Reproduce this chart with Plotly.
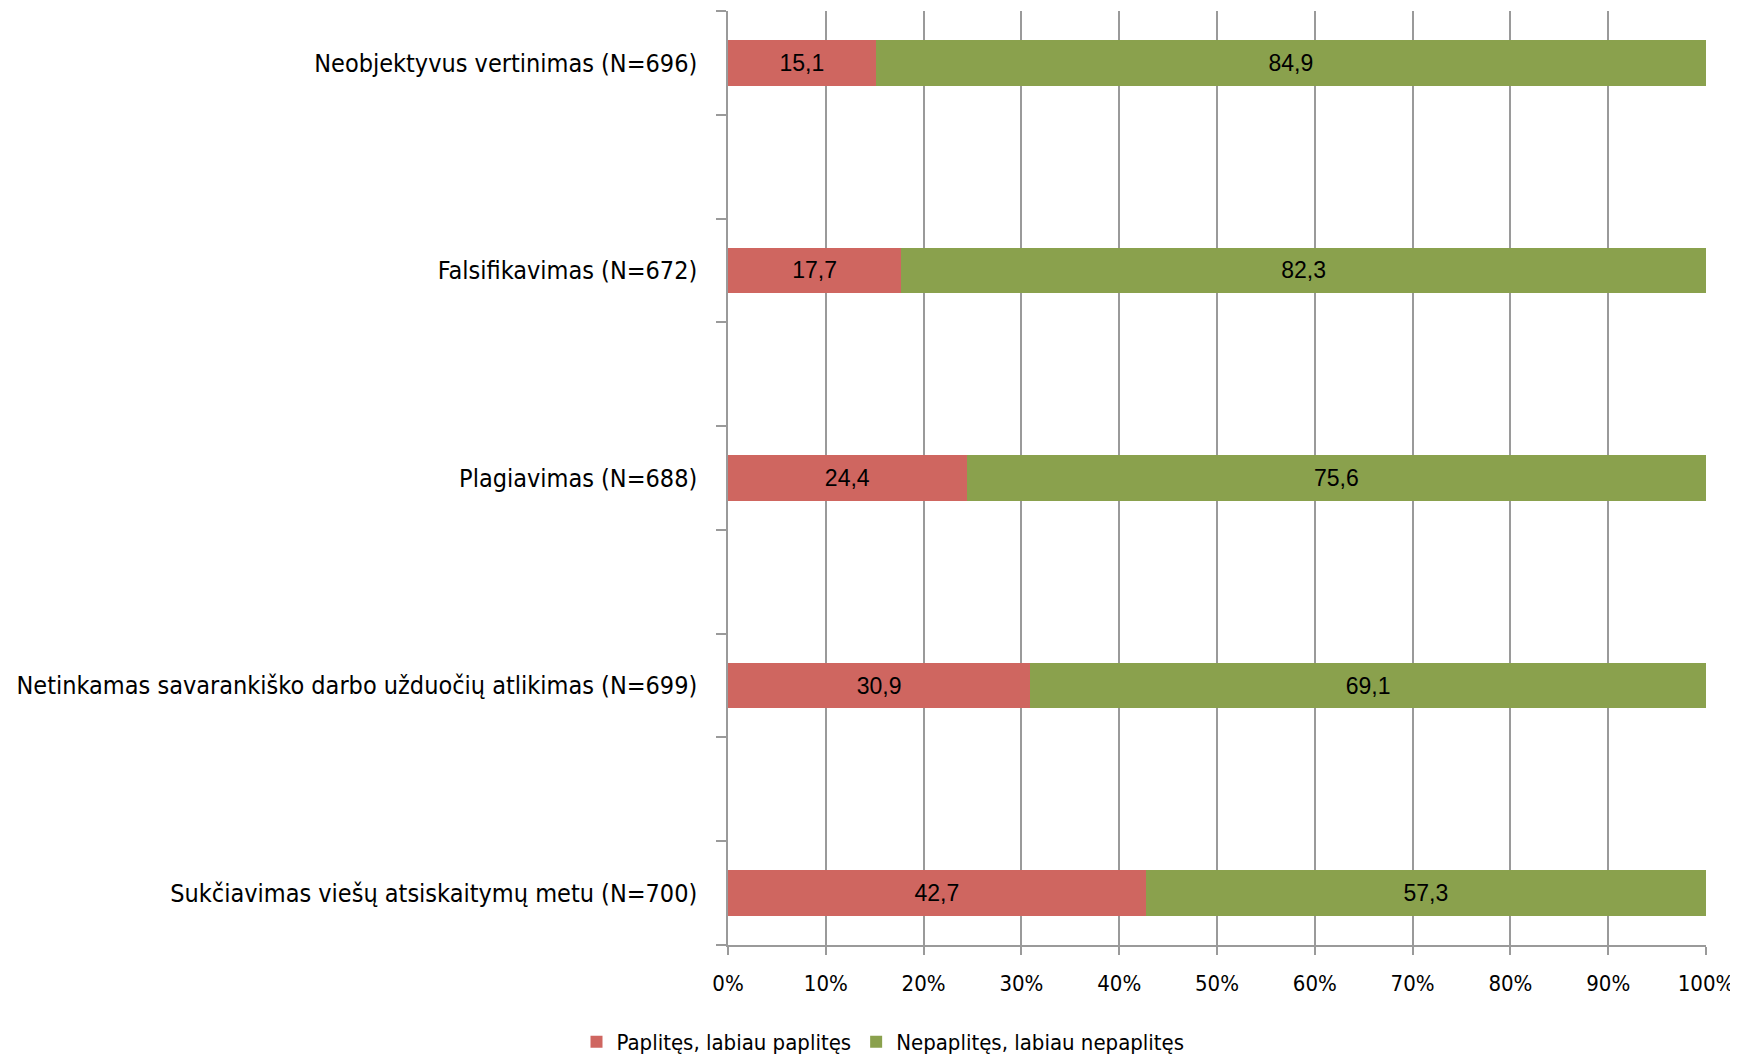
import plotly.graph_objects as go

categories = [
    "Sukčiavimas viešų atsiskaitymų metu (N=700)",
    "Netinkamas savarankiško darbo užduočių atlikimas (N=699)",
    "Plagiavimas (N=688)",
    "Falsifikavimas (N=672)",
    "Neobjektyvus vertinimas (N=696)",
]
paplite = [42.7, 30.9, 24.4, 17.7, 15.1]
nepaplite = [57.3, 69.1, 75.6, 82.3, 84.9]
series_names = ["Paplitęs, labiau paplitęs", "Nepaplitęs, labiau nepaplitęs"]
x_ticks = [0, 10, 20, 30, 40, 50, 60, 70, 80, 90, 100]

positions = [2 * i for i in range(len(categories))]

NARROW = "DejaVu Sans Condensed, sans-serif"
LABEL_FONT = dict(family="Liberation Sans, Arial, sans-serif", size=23, color="#000000")

def fmt(v):
    return f"{v:.1f}".replace(".", ",")

# page body has an ~8px margin; size the figure to fit the window
W, H = 1730, 1053

fig = go.Figure()
fig.add_trace(go.Bar(
    y=positions, x=paplite, orientation="h", name=series_names[0],
    marker=dict(color="#CF6660", line=dict(width=0)), width=0.44,
    text=[fmt(v) for v in paplite], textposition="inside",
    insidetextanchor="middle", textangle=0, textfont=LABEL_FONT,
    hoverinfo="skip",
))
fig.add_trace(go.Bar(
    y=positions, x=nepaplite, orientation="h", name=series_names[1],
    marker=dict(color="#8AA14D", line=dict(width=0)), width=0.44,
    text=[fmt(v) for v in nepaplite], textposition="inside",
    insidetextanchor="middle", textangle=0, textfont=LABEL_FONT,
    hoverinfo="skip",
))

fig.update_layout(
    barmode="stack",
    width=W, height=H,
    margin=dict(l=720, r=32, t=3, b=116, autoexpand=False),
    paper_bgcolor="white", plot_bgcolor="white",
    uniformtext=dict(mode="show", minsize=10),
    showlegend=True,
    legend=dict(
        orientation="h", xref="container", yref="container",
        x=875 / W, xanchor="center", y=1 - 1034 / H, yanchor="middle",
        font=dict(family=NARROW, size=22, color="#000000"),
        traceorder="normal", tracegroupgap=0,
    ),
    font=dict(family=NARROW, color="#000000"),
)
fig.update_xaxes(
    range=[0, 100], tickvals=x_ticks, ticktext=[f"{t}%" for t in x_ticks],
    showgrid=True, gridcolor="#9A9A9A", gridwidth=1.5,
    showline=True, linecolor="#9A9A9A", linewidth=1.5,
    ticks="outside", ticklen=8, tickcolor="#9A9A9A", tickwidth=1.5,
    ticklabelstandoff=10,
    tickfont=dict(family=NARROW, size=22, color="#000000"),
    zeroline=False, fixedrange=True, automargin=False,
)
fig.update_yaxes(
    range=[-0.5, 2 * len(categories) - 1.5], tickvals=positions, ticktext=categories,
    showgrid=False, zeroline=False,
    showline=True, linecolor="#9A9A9A", linewidth=1.5,
    ticks="", ticklabelstandoff=24,
    minor=dict(ticks="outside", tick0=-0.5, dtick=1, ticklen=10,
               tickcolor="#9A9A9A", tickwidth=1.5, showgrid=False),
    tickfont=dict(family=NARROW, size=25, color="#000000"),
    fixedrange=True, automargin=False,
)

fig.write_html("out.html")
